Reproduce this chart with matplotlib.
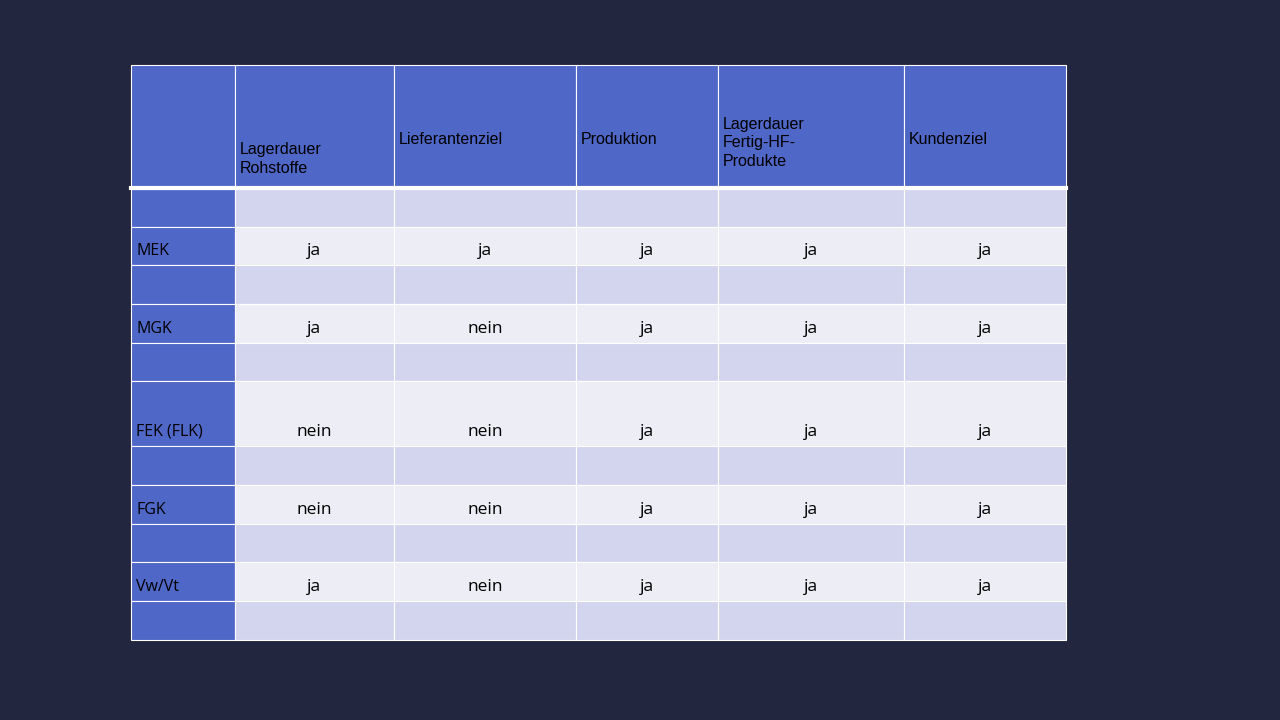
import matplotlib
matplotlib.use("Agg")
import matplotlib.pyplot as plt
from matplotlib.patches import Rectangle

headers = ["", "Lagerdauer\nRohstoffe", "Lieferantenziel", "Produktion",
           "Lagerdauer\nFertig-HF-\nProdukte", "Kundenziel"]
header_y = [0, 159, 140, 140, 143, 140]
row_labels = ["", "MEK", "", "MGK", "", "FEK (FLK)", "", "FGK", "", "Vw/Vt", ""]
cells = [
    ["", "", "", "", ""],
    ["ja", "ja", "ja", "ja", "ja"],
    ["", "", "", "", ""],
    ["ja", "nein", "ja", "ja", "ja"],
    ["", "", "", "", ""],
    ["nein", "nein", "ja", "ja", "ja"],
    ["", "", "", "", ""],
    ["nein", "nein", "ja", "ja", "ja"],
    ["", "", "", "", ""],
    ["ja", "nein", "ja", "ja", "ja"],
    ["", "", "", "", ""],
]
col_edges = [131, 235, 394, 576, 718, 904, 1066]
header_top, header_bot = 65, 187
row_edges = [189, 227, 265, 304, 343, 381, 446, 485, 524, 562, 601, 640]

BG = "#23263f"
BLUE = "#4f67c7"
DARK = "#d3d5ee"
LIGHT = "#ecedf5"

fig = plt.figure(figsize=(12.8, 7.2), dpi=100, facecolor=BG)
ax = fig.add_axes([0, 0, 1, 1])
ax.set_xlim(0, 1280); ax.set_ylim(720, 0); ax.axis("off")
ax.set_facecolor(BG)

# header
for j in range(6):
    x0, x1 = col_edges[j], col_edges[j + 1]
    ax.add_patch(Rectangle((x0, header_top), x1 - x0, header_bot - header_top,
                           facecolor=BLUE, edgecolor="white", lw=0.8))
    if headers[j]:
        ax.text(x0 + 5, header_y[j], headers[j], ha="left", va="center",
                fontsize=11.5, color="black", family="Liberation Sans", linespacing=1.3)
ax.plot([col_edges[0], col_edges[-1]], [188, 188], color="white", lw=3)

for i in range(len(row_labels)):
    y0, y1 = row_edges[i], row_edges[i + 1]
    fill = DARK if i % 2 == 0 else LIGHT
    ty = y1 - 14
    for j in range(6):
        x0, x1 = col_edges[j], col_edges[j + 1]
        fc = BLUE if j == 0 else fill
        ax.add_patch(Rectangle((x0, y0), x1 - x0, y1 - y0, facecolor=fc,
                               edgecolor="white", lw=0.8))
    if row_labels[i]:
        ax.text(col_edges[0] + 5, ty, row_labels[i], ha="left", va="center",
                fontsize=11.5, color="black", family="Open Sans")
    for j, v in enumerate(cells[i]):
        if v:
            ax.text((col_edges[j + 1] + col_edges[j + 2]) / 2, ty, v,
                    ha="center", va="center", fontsize=12.5, color="black",
                    family="Open Sans")

fig.savefig("out.png", dpi=100, facecolor=BG)
